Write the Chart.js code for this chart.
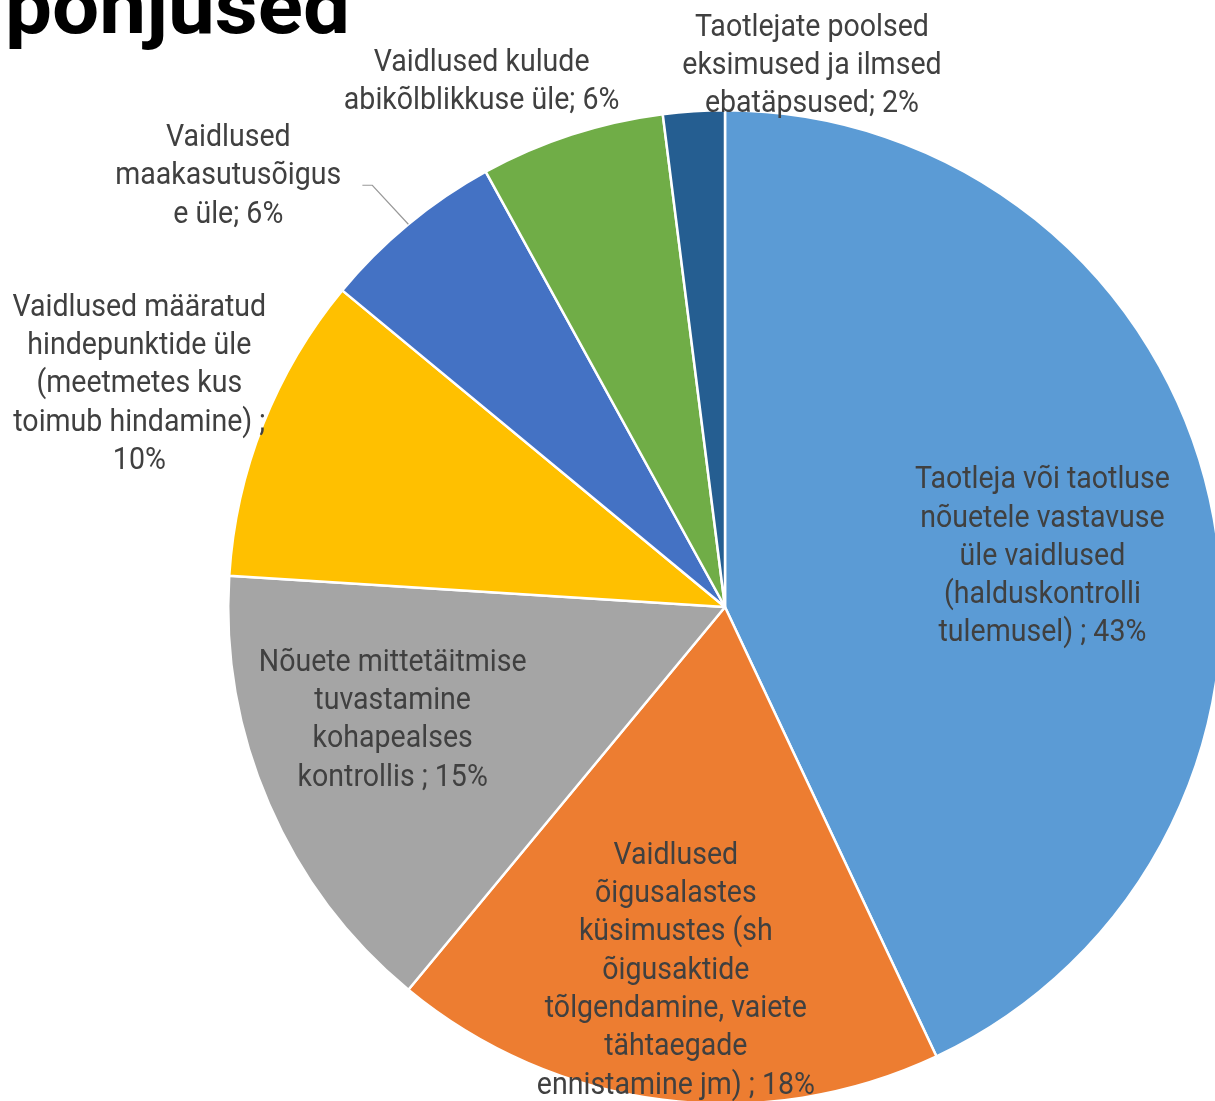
<!DOCTYPE html>
<html>
<head>
<meta charset="utf-8">
<script src="https://cdn.jsdelivr.net/npm/chart.js@4.4.1/dist/chart.umd.min.js"></script>
<style>
    html, body { margin: 0; padding: 0; background: #fff; overflow: hidden; }
    #wrap { position: absolute; left: 0; top: 0; width: 1450px; height: 1214px; }
</style>
</head>
<body>
<div id="wrap"><canvas id="pieChart"></canvas></div>
<script>
// Data
const categories = [
    'Taotleja või taotluse nõuetele vastavuse üle vaidlused (halduskontrolli tulemusel)',
    'Vaidlused õigusalastes küsimustes (sh õigusaktide tõlgendamine, vaiete tähtaegade ennistamine jm)',
    'Nõuete mittetäitmise tuvastamine kohapealses kontrollis',
    'Vaidlused määratud hindepunktide üle (meetmetes kus toimub hindamine)',
    'Vaidlused maakasutusõiguse üle',
    'Vaidlused kulude abikõlblikkuse üle',
    'Taotlejate poolsed eksimused ja ilmsed ebatäpsused'
];
const shares = [43, 18, 15, 10, 6, 6, 2];
const colors = ['#5B9BD5', '#ED7D31', '#A5A5A5', '#FFC000', '#4472C4', '#70AD47', '#255E91'];

// Label text as it wraps in the picture
const labelLines = [
    ['Taotleja või taotluse', 'nõuetele vastavuse', 'üle vaidlused', '(halduskontrolli', 'tulemusel) ; 43%'],
    ['Vaidlused', 'õigusalastes', 'küsimustes (sh', 'õigusaktide', 'tõlgendamine, vaiete', 'tähtaegade', 'ennistamine jm) ; 18%'],
    ['Nõuete mittetäitmise', 'tuvastamine', 'kohapealses', 'kontrollis ; 15%'],
    ['Vaidlused määratud', 'hindepunktide üle', '(meetmetes kus', 'toimub hindamine) ;', '10%'],
    ['Vaidlused', 'maakasutusõigus', 'e üle; 6%'],
    ['Vaidlused kulude', 'abikõlblikkuse üle; 6%'],
    ['Taotlejate poolsed', 'eksimused ja ilmsed', 'ebatäpsused; 2%']
];
// label block centre, relative to pie centre, in radius units
const labelOffsets = [
    [0.639, -0.107], [-0.099, 0.726], [-0.669, 0.222], [-1.179, -0.454],
    [-1.0, -0.873], [-0.490, -1.063], [0.175, -1.095]
];

const pieLabels = {
    id: 'pieLabels',
    afterDraw(chart) {
        const ctx = chart.ctx;
        const arcs = chart.getDatasetMeta(0).data;
        const cx = arcs[0].x, cy = arcs[0].y, r = arcs[0].outerRadius;

        // title (only the lower part shows)
        ctx.save();
        ctx.font = 'bold 78px Roboto';
        ctx.fillStyle = '#000';
        ctx.textBaseline = 'alphabetic';
        const tw = ctx.measureText('põhjused').width;
        ctx.translate(5, 33);
        ctx.scale(345 / tw, 1);
        ctx.fillText('põhjused', 0, 0);
        ctx.restore();

        // leader line for the maakasutusõigus slice
        const a = arcs[4];
        const mid = (a.startAngle + a.endAngle) / 2;
        ctx.save();
        ctx.strokeStyle = '#999999';
        ctx.lineWidth = 1.2;
        ctx.beginPath();
        ctx.moveTo(cx + Math.cos(mid) * r, cy + Math.sin(mid) * r);
        ctx.lineTo(cx - 0.71 * r, cy - 0.849 * r);
        ctx.lineTo(cx - 0.73 * r, cy - 0.849 * r);
        ctx.stroke();
        ctx.restore();

        ctx.save();
        ctx.font = '32px Roboto';
        const sx = 255 / ctx.measureText('Taotleja või taotluse').width;
        ctx.fillStyle = '#404040';
        ctx.textAlign = 'center';
        ctx.textBaseline = 'middle';
        const lh = 38.3;
        labelLines.forEach((lines, i) => {
            const x = cx + labelOffsets[i][0] * r;
            const y0 = cy + labelOffsets[i][1] * r - (lines.length - 1) * lh / 2 + 3;
            lines.forEach((line, j) => {
                ctx.save();
                ctx.translate(x, y0 + j * lh);
                ctx.scale(sx, 1);
                ctx.fillText(line, 0, 0);
                ctx.restore();
            });
        });
        ctx.restore();
    }
};

new Chart(document.getElementById('pieChart'), {
    type: 'pie',
    data: {
        labels: categories,
        datasets: [{
            data: shares,
            backgroundColor: colors,
            borderColor: '#fff',
            borderWidth: 2.5
        }]
    },
    options: {
        responsive: true,
        maintainAspectRatio: false,
        animation: false,
        layout: { padding: { left: 227, right: 227, top: 109, bottom: 109 } },
        plugins: {
            legend: { display: false },
            tooltip: { enabled: false }
        }
    },
    plugins: [pieLabels]
});
</script>
</body>
</html>
